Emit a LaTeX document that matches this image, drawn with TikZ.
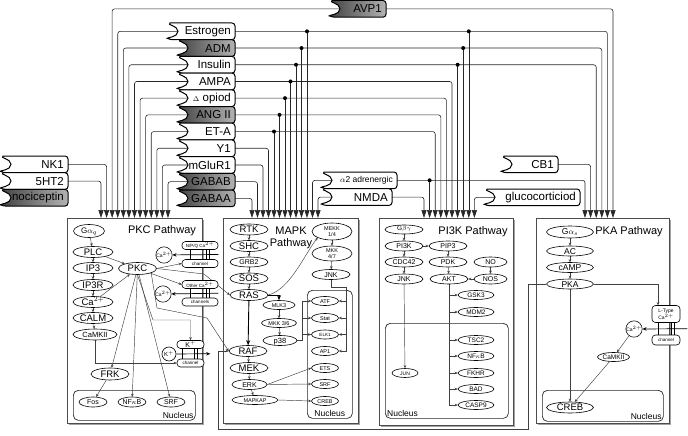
\documentclass[tikz,border=0pt]{standalone}
\usepackage{fontspec}
\setmainfont{Liberation Sans}
\usepackage{tikz}
\usetikzlibrary{arrows.meta,shapes,shadows,calc}
\pgfdeclarelayer{background}
\pgfdeclarelayer{boxes}
\pgfdeclarelayer{lines}
\pgfsetlayers{background,boxes,lines,main}
\tikzstyle{pathbox}=[draw=black!70, line width=0.8pt, fill=white, inner sep=0pt, anchor=north west, drop shadow={shadow xshift=2pt, shadow yshift=-2pt, opacity=0.6, fill=black!60}]
\tikzstyle{nucbox}=[draw=black!85, line width=0.7pt, rounded corners=5pt, inner sep=0pt, anchor=north west]
\tikzstyle{nuclbl}=[inner sep=2pt, font=\fontsize{8.5}{9}\selectfont]
\tikzstyle{pwtitle}=[inner sep=0pt, align=center, font=\fontsize{11}{12}\selectfont]
\tikzstyle{sig}=[ellipse, draw, fill=white, line width=0.6pt, inner sep=0pt, text height=6.5pt, text depth=0pt, minimum width=38pt, minimum height=11pt, font=\fontsize{9.5}{10}\selectfont]
\tikzstyle{msig}=[sig, text height=5pt, minimum height=10pt, font=\fontsize{7}{8}\selectfont]
\tikzstyle{ssig}=[sig, text height=4pt, minimum height=9pt, font=\fontsize{5.5}{6}\selectfont]
\tikzstyle{mk}=[ellipse, draw, fill=white, line width=0.6pt, inner sep=0pt, align=center, minimum width=40pt, minimum height=17pt, font=\fontsize{5.5}{6}\selectfont]
\tikzstyle{ion}=[circle, draw, fill=white, line width=0.6pt, inner sep=0pt, minimum size=14pt, font=\fontsize{5}{5}\selectfont]
\tikzstyle{chan}=[draw, fill=white, line width=0.6pt, rounded corners=3.5pt, inner sep=0.5pt, minimum height=8pt, align=center, font=\fontsize{4.5}{5}\selectfont]
\tikzstyle{recnode}=[inner sep=0pt, minimum height=16.7pt]
\tikzstyle{reclbl}=[inner sep=0pt, anchor=east, font=\fontsize{11.5}{12}\selectfont]
\tikzstyle{recshape}=[draw=black, line width=1pt, fill=white]
\tikzstyle{dark}=[left color=black!75, right color=black!30]
\tikzstyle{feed}=[draw=black!85, line width=0.6pt, rounded corners=2.5pt, -{Triangle[width=5pt,length=8pt]}]
\tikzstyle{lnk}=[draw=black!75, line width=0.45pt, -{Stealth[length=3pt,width=2.6pt]}]
\tikzstyle{thickarr}=[draw=black, line width=0.9pt, -{Stealth[length=5pt,width=4pt]}]
\tikzstyle{influx}=[draw=black, line width=0.7pt, -{Stealth[length=4pt,width=3.5pt]}]
\tikzstyle{bar}=[draw, line width=0.6pt]
% receptor box with a wavy membrane edge on its left
\newcommand\recep[6]{%
  \path[recshape,#6] (#2+2,#3+16.7) .. controls (#2-2,#3+14.7) and (#2+10,#3+14.35) .. (#2+10,#3+8.35)
    .. controls (#2+10,#3+2.35) and (#2-2,#3+2) .. (#2+2,#3)
    [rounded corners=3pt] -- (#2+#4,#3) -- (#2+#4,#3+16.7) -- cycle;
  \node[recnode, minimum width=#4pt] (#1) at (#2+#4/2,#3+8.35) {};
  \coordinate (#1-in) at (#2+10,#3+8.35);
  \node[reclbl] (#1-l) at (#2+#4-4,#3+8.35) {#5};}

\begin{document}
\begin{tikzpicture}[x=1pt, y=-1pt]
    \useasboundingbox (0,0) rectangle (688,436);
    % First the four pathway boxes and their nuclei
    \begin{pgfonlayer}{boxes}
    \foreach \pos/\name/\w/\h in {{(67,218)/pkcbox/135/205}, {(223,218)/mapkbox/135/205}, {(379,218)/pithreebox/134/207}, {(536,218)/pkabox/133/205}}
        \node[pathbox, minimum width=\w pt, minimum height=\h pt] (\name) at \pos {};
    \foreach \pos/\name/\w/\h in {{(73,390)/nucpkc/122/30}, {(307,290)/nucmapk/45/128}, {(385,323)/nucpithree/123/95}, {(542,390)/nucpka/121/31}}
        \node[nucbox, minimum width=\w pt, minimum height=\h pt] (\name) at \pos {};
    \end{pgfonlayer}
    \node[nuclbl, anchor=south east] (nucpkc-l) at (nucpkc.south east) {Nucleus};
    \node[nuclbl, anchor=south] (nucmapk-l) at (nucmapk.south) {Nucleus};
    \node[nuclbl, anchor=south west] (nucpithree-l) at (nucpithree.south west) {Nucleus};
    \node[nuclbl, anchor=south east] (nucpka-l) at (nucpka.south east) {Nucleus};
    % arrow ends on top of the boxes
    \foreach \i in {0,...,12} \coordinate (pkc-\i) at ([xshift={34+5.58*\i}]pkcbox.north west);
    \foreach \i in {0,...,12} \coordinate (mapk-\i) at ([xshift={29+5.5*\i}]mapkbox.north west);
    \foreach \i in {0,...,9} \coordinate (pithree-\i) at ([xshift={45+5.6*\i}]pithreebox.north west);
    \foreach \i in {0,...,5} \coordinate (pka-\i) at ([xshift={49+5.6*\i}]pkabox.north west);

    % Then the receptors
    \recep{avp}{330}{0.5}{56}{AVP1}{dark}
    \recep{estr}{168}{23}{67}{Estrogen}{}
    \recep{adm}{178}{39.7}{57}{ADM}{dark}
    \recep{ins}{178}{56.4}{57}{Insulin}{}
    \recep{ampa}{178}{73.1}{57}{AMPA}{}
    \recep{dop}{178}{89.8}{57}{{\fontsize{7}{7}\selectfont$\Delta$} opiod}{}
    \recep{ang}{178}{106.5}{57}{ANG II}{dark}
    \recep{eta}{178}{123.2}{57}{ET-A}{}
    \recep{yone}{178}{139.9}{57}{Y1}{}
    \recep{mglu}{178}{156.6}{57}{mGluR1}{}
    \recep{gabab}{178}{173.3}{57}{GABAB}{dark}
    \recep{gabaa}{178}{190}{57}{GABAA}{dark}
    \recep{nkone}{1}{156}{67}{NK1}{}
    \recep{htwo}{1}{172.7}{67}{5HT2}{}
    \recep{noci}{1}{189.4}{67}{nociceptin}{dark}
    \recep{atwo}{322}{172}{75}{{\fontsize{8.5}{9}\selectfont$\alpha$2 adrenergic}}{}
    \recep{nmda}{322}{188.7}{70}{NMDA}{}
    \recep{cbone}{502}{156}{56}{CB1}{}
    \recep{gluco}{485}{189}{95}{glucocorticiod}{}

    % Receptors feed the pathways
    \begin{pgfonlayer}{background}
    \foreach \src/\k in {htwo/0, nkone/1}
        \path[feed] (\src.east) -| (pkc-\k);
    \foreach \src/\k in {avp/2, estr/3, adm/4, ins/5, ampa/6, dop/7, ang/8, eta/9, yone/10, mglu/11, gabab/12}
        \path[feed] (\src-in) -| (pkc-\k);
    \foreach \src/\k in {gabaa/0, gabab/1, mglu/2, yone/3}
        \path[feed] (\src.east) -| (mapk-\k);
    \foreach \src/\k in {atwo/11, nmda/12}
        \path[feed] (\src-in) -| (mapk-\k);
    \foreach \src/\dst in {estr/pka-4, adm/pka-3, ins/pka-2, ampa/pithree-5, dop/pithree-4, ang/pithree-3, eta/pithree-2, nmda/pithree-0, avp/pka-5, atwo/pka-0, cbone/pka-1}
        \path[feed] (\src.east) -| (\dst);
    \path[feed] (gluco-in) -| (pithree-9);
    % branches with a dot
    \foreach \src/\tgt in {estr/mapk-10, adm/mapk-9, ins/mapk-8, ampa/mapk-7, dop/mapk-6, ang/mapk-5, eta/mapk-4, estr/pithree-8, adm/pithree-7, ins/pithree-6, atwo/pithree-1}
    {
        \path[feed] (\src.east -| \tgt) -- (\tgt);
        \fill (\src.east -| \tgt) circle (2pt);
    }
    \end{pgfonlayer}

    % PKC pathway
    \node[pwtitle] (pkct) at (162,231) {PKC Pathway};
    \node[sig, minimum width=31pt, minimum height=13pt, text depth=2pt, font=\fontsize{8}{8}\selectfont] (gq) at (89,231) {G$\alpha_q$};
    \foreach \pos/\name/\txt in {{(93,252)/plc/PLC}, {(93,268)/ipthree/IP3}, {(93,285)/ipr/IP3R}, {(93,302)/capkc/Ca$^{2+}$}, {(93,318)/calm/CALM}}
        \node[sig, minimum width=40pt] (\name) at \pos {\txt};
    \node[sig, minimum width=44pt, text height=5.5pt, font=\fontsize{7.5}{8}\selectfont] (camk) at (95,334.5) {CaMKII};
    \node[sig, minimum height=12pt] (pkc) at (137.5,268.5) {PKC};
    \node[sig, minimum height=12pt] (frk) at (110,374) {FRK};
    \foreach \pos/\name/\txt in {{(93,402)/fos/Fos}, {(132,402)/nfkbc/NF$\kappa$B}, {(171,402)/srfc/SRF}}
        \node[msig, minimum width=28pt] (\name) at \pos {\txt};
    \node[chan, minimum width=36pt] (npq) at (200,245.5) {N/P/Q Ca$^{2+}$};
    \node[chan, minimum width=36pt] (npqc) at (200,263.5) {channel};
    \node[chan, minimum width=36pt] (oca) at (200,284.5) {Other Ca$^{2+}$};
    \node[chan, minimum width=36pt] (ocac) at (200,302) {channels};
    \node[chan, minimum width=27pt, font=\fontsize{7}{7}\selectfont] (kt) at (190.5,344.5) {K$^{+}$};
    \node[chan, minimum width=27pt] (ktc) at (190.5,363) {channel};
    \node[ion] (ionnpq) at (164,255) {Ca$^{2+}$};
    \node[ion] (ionoca) at (163,294) {Ca$^{2+}$};
    \node[ion, font=\fontsize{6}{6}\selectfont] (ionk) at (169,354) {K$^{+}$};

    % MAPK pathway
    \node[pwtitle] (mapkt) at (291,238) {MAPK\\Pathway};
    \foreach \pos/\name/\txt in {{(249,229.5)/rtk/RTK}, {(249,246)/shc/SHC}, {(249,278.5)/sos/SOS}, {(249,295)/ras/RAS}, {(248,351)/raf/RAF}, {(249,368)/mek/MEK}}
        \node[sig] (\name) at \pos {\txt};
    \node[msig] (grbtwo) at (249,262) {GRB2};
    \node[msig, minimum width=35pt] (erk) at (249.5,384.5) {ERK};
    \node[ssig, minimum width=46pt] (mapkap) at (255,400) {MAPKAP};
    \node[mk] (mekk) at (332,231.5) {MEKK\\1/4};
    \node[mk, minimum height=15pt] (mkkfs) at (332,253.5) {MKK\\4/7};
    \node[msig] (jnkm) at (331,274.5) {JNK};
    \node[ssig, minimum width=32pt] (mlk) at (279,305) {MLK3};
    \node[ssig, minimum width=35pt] (mkkts) at (279,323) {MKK 3/6};
    \node[msig, minimum width=34pt, font=\fontsize{7.5}{8}\selectfont] (pte) at (280,340.5) {p38};
    \foreach \y/\name/\txt in {301/atf/ATF, 318/stat/Stat, 351/apone/AP1, 368/ets/ETS, 384/srfm/SRF, 401/crebm/CREB}
        \node[ssig, minimum width=27pt] (\name) at (325,\y) {\txt};
    \node[ssig, minimum width=27pt, font=\fontsize{4.5}{5}\selectfont] (elk) at (325,334.5) {ELK1};

    % PI3K pathway
    \node[pwtitle] (pithreet) at (473,232) {PI3K Pathway};
    \node[ssig, text depth=1.5pt, font=\fontsize{6.5}{7}\selectfont] (gbg) at (404,229.5) {G$\beta\gamma$};
    \foreach \pos/\name/\txt in {{(404,246)/pithreek/PI3K}, {(404,262)/cdc/CDC42}, {(404,279)/jnkp/JNK}, {(448,246)/pip/PIP3}, {(448,262)/pdk/PDK}, {(449,279)/akt/AKT}}
        \node[msig] (\name) at \pos {\txt};
    \foreach \pos/\name/\txt in {{(490.5,262)/no/NO}, {(490.5,279)/nos/NOS}}
        \node[msig, minimum width=33pt] (\name) at \pos {\txt};
    \foreach \y/\name/\txt in {295/gsk/GSK3, 312/mdm/MDM2, 340/tsc/TSC2, 356/nfkbp/NF$\kappa$B, 373/fkhr/FKHR, 389/bad/BAD, 405/casp/CASP9}
        \node[ssig, minimum width=36pt, font=\fontsize{6.5}{7}\selectfont] (\name) at (476,\y) {\txt};
    \node[ssig, minimum width=26pt, font=\fontsize{5}{5}\selectfont] (jun) at (405,373) {JUN};

    % PKA pathway
    \node[pwtitle] (pkat) at (629,232) {PKA Pathway};
    \node[sig, minimum width=47pt, minimum height=12pt, text height=6pt, text depth=2pt, font=\fontsize{8.5}{9}\selectfont] (gs) at (570,232) {G$\alpha_s$};
    \foreach \y/\name/\txt in {251/ac/AC, 267.5/camp/cAMP, 284/pka/PKA}
        \node[sig, minimum width=47pt, minimum height=10pt, text height=6pt, font=\fontsize{8.5}{9}\selectfont] (\name) at (570,\y) {\txt};
    \node[chan, minimum width=28pt, minimum height=17pt, font=\fontsize{5}{5.5}\selectfont] (ltype) at (666,314) {L-Type\\Ca$^{2+}$};
    \node[chan, minimum width=28pt, minimum height=10pt] (ltypec) at (666,340) {channel};
    \node[ion] (ionl) at (634,329) {Ca$^{2+}$};
    \node[sig, minimum width=32pt, minimum height=9pt, text height=5pt, font=\fontsize{6.5}{7}\selectfont] (camkp) at (613.5,357) {CaMKII};
    \node[sig, minimum width=47pt] (crebp) at (570,407.5) {CREB};

    % Connect the signals
    \begin{pgfonlayer}{lines}
    \foreach \a/\b in {gq/plc, plc/ipthree, ipthree/ipr, ipr/capkc, capkc/calm, calm/camk, plc/pkc, capkc/pkc, pkc/frk, pkc/nfkbc, pkc/srfc, frk/fos}
        \path[lnk] (\a) -- (\b);
    \path[lnk] (pkc.east) -- (npqc.west);
    \path[lnk] (pkc) -- (oca.west);
    \path[lnk] (camk.south) |- (ktc.west);
    \coordinate (kbend) at (153,320);
    \path[lnk] (pkc.south) -- (kbend) -| (kt.north);
    \coordinate (rbend) at (157,308);
    \coordinate (rbendb) at (207,318);
    \path[lnk] (pkc.south east) -- (rbend) -- (rbendb) -- (raf.west);
    \coordinate (sbend) at (204,274);
    \path[lnk] (pkc.east) -- (sbend) -- (ras.west);
    % ion channels
    \foreach \dx in {-10,6,9}
    {
        \path[bar] ([xshift=\dx pt]npq.south) -- ([xshift=\dx pt]npqc.north);
        \path[bar] ([xshift=\dx pt]oca.south) -- ([xshift=\dx pt]ocac.north);
    }
    \foreach \dx in {-8,4,7}
        \path[bar] ([xshift=\dx pt]kt.south) -- ([xshift=\dx pt]ktc.north);
    \foreach \dx in {-8,5,8}
        \path[bar] ([xshift=\dx pt]ltype.south) -- ([xshift=\dx pt]ltypec.north);
    \coordinate (npqmid) at ($(npq.south east)!.5!(npqc.north east)$);
    \coordinate (ocamid) at ($(oca.south east)!.5!(ocac.north east)$);
    \coordinate (ktmid) at ($(kt.south east)!.5!(ktc.north east)$);
    \coordinate (ltmid) at ($(ltype.south east)!.5!(ltypec.north east)$);
    \path[influx] (npqmid) -- (ionnpq);
    \path[influx] (ocamid) -- (ionoca);
    \path[influx] (ionk) -- ([xshift=6pt]ktmid);
    \path[influx] ([xshift=7pt]ltmid) -- (ionl);
    % MAPK
    \foreach \a/\b in {rtk/shc, shc/grbtwo, grbtwo/sos, sos/ras, mekk/mkkfs, mkkfs/jnkm, mlk/mkkts, mkkts/pte, raf/mek, mek/erk, erk/mapkap}
        \path[lnk] (\a) -- (\b);
    \path[lnk] (ras.east) .. controls +(22,-6) and +(-14,18) .. (mekk.south west);
    \path[thickarr] (ras.east) -| (mlk.north);
    \path[thickarr] (ras) -- (raf);
    \coordinate (jbus) at (346,287);
    \path[lnk] (jnkm.south) |- (jbus) |- (apone.east);
    \foreach \n in {atf, stat, elk}
        \path[lnk] (jbus |- \n.east) -- (\n.east);
    \coordinate (pbus) at (302,301);
    \path[lnk] (pte.east) -| (pbus) -- (atf.west);
    \foreach \n in {stat, elk}
        \path[lnk] (pbus |- \n.west) -- (\n.west);
    \path[lnk] (erk.east) -- (ets.west);
    \path[lnk] (erk.east) -- (srfm.west);
    \path[lnk] (mapkap.east) -- (crebm.west);
    % PI3K
    \foreach \a/\b in {gbg/pithreek, pithreek/cdc, cdc/jnkp, pithreek/pip, pip/pdk, pdk/akt, no/nos, nos/akt, jnkp/jun}
        \path[lnk] (\a) -- (\b);
    \path[lnk] (akt.south) |- (casp.west);
    \foreach \n in {gsk, mdm, tsc, nfkbp, fkhr, bad}
        \path[lnk] (akt.south |- \n.west) -- (\n.west);
    % PKA
    \foreach \a/\b in {gs/ac, ac/camp, camp/pka, pka/crebp, ionl/camkp, camkp/crebp}
        \path[lnk] (\a) -- (\b);
    \path[lnk] (pka.east) -| ([xshift=-8pt]ltype.north);
    \coordinate (loopa) at (528,429);
    \coordinate (loopb) at (218,429);
    \path[lnk] (pka.west) -| (loopa) -- (loopb) |- (raf.west);
    \end{pgfonlayer}
\end{tikzpicture}
\end{document}
